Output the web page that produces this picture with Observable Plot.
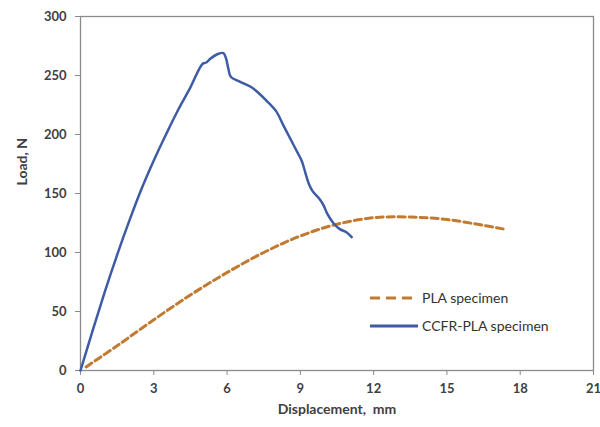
<!DOCTYPE html>
<html>
<head>
<meta charset="utf-8">
<script src="https://cdn.jsdelivr.net/npm/d3@7"></script>
<script src="https://cdn.jsdelivr.net/npm/@observablehq/plot@0.6"></script>
<style>
  html, body { margin: 0; padding: 0; background: #fff; }
  #wrap { position: relative; width: 600px; height: 427px; font-family: Lato, "Open Sans", sans-serif; }
  #legend { position: absolute; left: 368px; top: 284px; font-size: 14px; color: #333; line-height: 28px; }
  #legend div { display: flex; align-items: center; height: 28px; }
  #legend svg { margin-right: 4px; }
</style>
</head>
<body>
<div id="wrap"></div>
<script>
// Data (Displacement, mm ; Load, N)
const ccfrX = [0, 0.5, 1.0, 1.5, 2.0, 2.5, 3.0, 3.5, 4.0, 4.5, 5.0, 5.15, 5.3, 5.6, 5.85, 5.95, 6.05, 6.15, 6.5, 7.0, 7.3, 7.6, 8.0, 8.3, 8.6, 8.85, 9.05, 9.2, 9.35, 9.5, 9.8, 9.95, 10.1, 10.35, 10.6, 10.9, 11.1];
const ccfrY = [0, 34, 67, 98, 127, 154, 178, 200, 221, 240, 260, 261, 264, 268, 269, 265, 256, 249, 245, 240, 235, 229, 220, 208, 196, 186, 178, 168, 158, 152, 145, 140, 133, 125, 120, 117, 113];
const plaX = [0.23, 1.5, 3.0, 4.5, 6.0, 7.5, 9.0, 10.5, 12.0, 13.5, 15.0, 16.5, 17.3];
const plaY = [3, 21, 43, 64, 83, 100, 114, 124, 129.5, 130, 128, 123, 120];
const xTicks = [0, 3, 6, 9, 12, 15, 18, 21];
const yTicks = [0, 50, 100, 150, 200, 250, 300];
const seriesNames = ["PLA specimen", "CCFR-PLA specimen"];
const xLabel = "Displacement,  mm";
const yLabel = "Load, N";

const ccfr = ccfrX.map((x, i) => ({x, y: ccfrY[i]}));
const pla = plaX.map((x, i) => ({x, y: plaY[i]}));

const blue = "#3e5ba5";
const orange = "#c27a30";
const axisColor = "#8a8a8a";
const textColor = "#404040";

const chart = Plot.plot({
  width: 600,
  height: 427,
  marginLeft: 80,
  marginRight: 7,
  marginTop: 16,
  marginBottom: 57,
  style: {fontFamily: "Lato, 'Open Sans', sans-serif", background: "#fff"},
  x: {domain: [0, 21]},
  y: {domain: [0, 300]},
  marks: [
    Plot.frame({stroke: axisColor, strokeWidth: 1.3}),
    Plot.axisX({ticks: xTicks, tickSize: 5, tickPadding: 8, stroke: axisColor, color: textColor, fontSize: 13, fontWeight: "bold", label: null}),
    Plot.axisY({ticks: yTicks, tickSize: 5, tickPadding: 9, stroke: axisColor, color: textColor, fontSize: 13, fontWeight: "bold", label: null}),
    Plot.text([xLabel], {frameAnchor: "bottom", dy: 43, text: d => d, fontSize: 14, fontWeight: "bold", fill: textColor}),
    Plot.text([yLabel], {frameAnchor: "left", dx: -58, dy: -8, rotate: -90, text: d => d, fontSize: 14, fontWeight: "bold", fill: textColor}),
    Plot.line(pla, {x: "x", y: "y", stroke: orange, strokeWidth: 3, strokeDasharray: "7,4", curve: "catmull-rom"}),
    Plot.line(ccfr, {x: "x", y: "y", stroke: blue, strokeWidth: 2.5, curve: "catmull-rom"})
  ]
});

const wrap = document.getElementById("wrap");
wrap.appendChild(chart);

const legend = document.createElement("div");
legend.id = "legend";
legend.innerHTML = `
  <div><svg width="50" height="6"><line x1="2" y1="3" x2="48" y2="3" stroke="${orange}" stroke-width="3" stroke-dasharray="10,6"/></svg><span>${seriesNames[0]}</span></div>
  <div><svg width="50" height="6"><line x1="2" y1="3" x2="50" y2="3" stroke="${blue}" stroke-width="3"/></svg><span>${seriesNames[1]}</span></div>`;
wrap.appendChild(legend);
</script>
</body>
</html>
